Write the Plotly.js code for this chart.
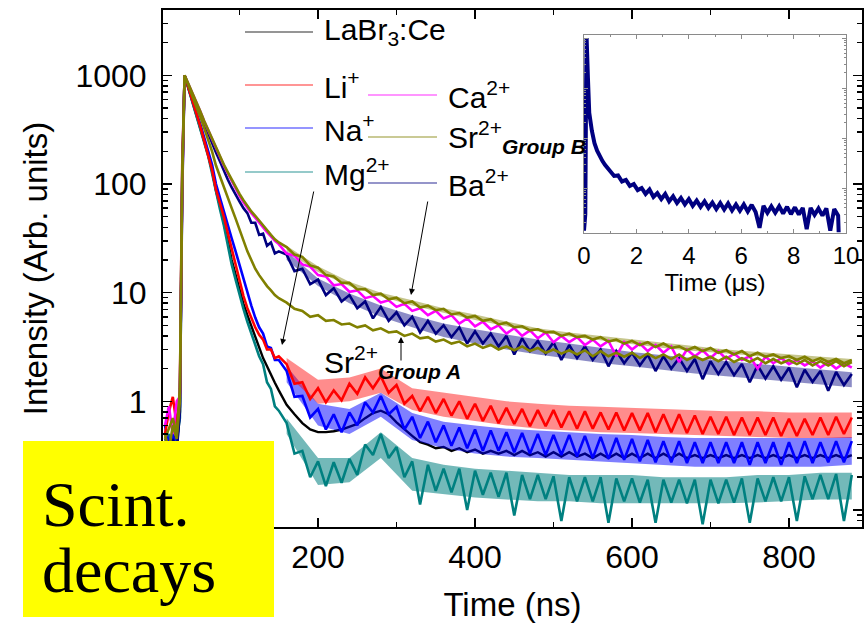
<!DOCTYPE html>
<html>
<head>
<meta charset="utf-8">
<script src="https://cdn.plot.ly/plotly-3.0.1.min.js"></script>
<style>html,body{margin:0;padding:0;background:#fff;}#chart{width:868px;height:630px;}</style>
</head>
<body>
<div id="chart"></div>
<script>
// ---------- data ----------
const timeNs = [5,10,15,20,24,27,30,35,40,45,50,55,60,65,70,75,80,85,90,95,100,105,110,115,120,125,130,135,140,145,150,
160,170,180,190,200,210,220,230,240,250,260,270,280,290,300,310,320,330,340,350,360,370,380,390,400,410,420,430,440,450,460,470,480,490,500,510,520,530,540,550,560,570,580,590,600,610,620,630,640,650,660,670,680,690,700,710,720,730,740,750,760,770,780,790,800,810,820,830,840,850,860,870,880];

const labr = [0.45,0.4,0.5,0.4,0.8,100,1000,759,575,437,331,251,186,132,87,63,44.7,30.2,20,14.5,10.7,7.9,6.2,4.9,4.0,3.2,2.5,2.1,1.74,1.48,1.26,
0.93,0.76,0.63,0.55,0.52,0.52,0.53,0.55,0.58,0.62,0.7,0.78,0.82,0.76,0.64,0.55,0.48,0.42,0.4,0.37,0.38,0.35,0.37,0.34,0.36,0.33,0.35,0.33,0.35,0.32,0.35,0.32,0.34,0.31,0.34,0.31,0.34,0.31,0.33,0.3,0.33,0.3,0.33,0.3,0.33,0.3,0.33,0.3,0.33,0.3,0.33,0.3,0.32,0.3,0.32,0.3,0.32,0.3,0.32,0.3,0.32,0.3,0.32,0.3,0.32,0.3,0.32,0.3,0.32,0.3,0.32,0.3,0.32];

const li = [0.5,0.8,1.1,0.6,1.2,150,1000,776,589,447,339,251,191,135,89,68,50,35.5,25,17.8,12.6,9.3,7.2,5.75,4.8,4.1,3.7,3.0,3.0,2.5,2.6,
2.2,1.45,1.5,1.05,1.32,0.98,1.26,1.02,1.45,1.17,1.66,1.32,1.7,1.2,1.41,0.95,1.12,0.81,1.1,0.78,1.05,0.74,1.0,0.69,0.95,0.66,0.91,0.63,0.87,0.62,0.85,0.59,0.83,0.59,0.83,0.575,0.81,0.56,0.81,0.56,0.79,0.55,0.79,0.54,0.78,0.54,0.78,0.52,0.76,0.52,0.76,0.51,0.74,0.5,0.72,0.5,0.72,0.49,0.71,0.49,0.71,0.49,0.71,0.48,0.69,0.48,0.69,0.49,0.71,0.49,0.72,0.5,0.71];

const na = [0.6,0.4,0.5,0.35,0.9,130,1000,759,589,457,355,269,204,151,100,74,55,41.7,31.6,24,17.8,13.5,10,7.6,5.9,4.8,4.2,3.2,3.1,2.4,2.4,
1.9,1.1,1.12,0.71,0.85,0.55,0.76,0.52,0.79,0.6,0.98,0.79,1.12,0.76,0.89,0.55,0.72,0.46,0.65,0.42,0.6,0.39,0.575,0.37,0.55,0.35,0.54,0.35,0.52,0.34,0.51,0.33,0.5,0.32,0.49,0.32,0.49,0.31,0.48,0.3,0.47,0.295,0.46,0.29,0.45,0.28,0.44,0.275,0.43,0.275,0.43,0.27,0.42,0.27,0.42,0.27,0.42,0.27,0.42,0.26,0.42,0.27,0.42,0.26,0.42,0.27,0.43,0.27,0.42,0.275,0.43,0.275,0.43];

const mg = [0.4,0.5,0.3,0.45,0.7,100,1000,759,575,437,331,245,182,126,83,59,41.7,27.5,18.2,13.2,9.5,7.1,5.4,4.2,3.3,2.6,2.2,1.5,1.3,0.9,0.82,
0.63,0.33,0.35,0.2,0.28,0.166,0.275,0.178,0.295,0.21,0.4,0.32,0.5,0.3,0.38,0.2,0.28,0.112,0.26,0.15,0.24,0.145,0.24,0.1,0.23,0.138,0.22,0.132,0.22,0.089,0.21,0.126,0.21,0.126,0.204,0.079,0.2,0.12,0.2,0.12,0.2,0.076,0.195,0.12,0.195,0.117,0.19,0.076,0.19,0.117,0.19,0.115,0.19,0.074,0.19,0.115,0.19,0.117,0.195,0.076,0.195,0.12,0.2,0.12,0.2,0.079,0.204,0.126,0.21,0.126,0.214,0.079,0.21];

const ca = [0.6,0.9,0.5,1.0,1.1,90,1000,830,690,573,466,378,314,260,211,175,148,126,107,90,78,68,60,54,49,44,40,36,33,30,28,
22.9,21.9,18.2,17.4,14.5,14.1,11.7,12.0,10.2,10.5,8.9,9.3,8.1,8.5,7.4,7.9,6.8,7.2,6.2,6.8,5.8,6.2,5.2,5.8,4.9,5.4,4.6,5.0,4.2,4.7,4.0,4.5,3.8,4.3,3.5,4.0,3.5,3.9,3.3,3.7,3.2,3.6,2.6,3.5,3.0,3.4,2.9,3.3,2.8,3.2,2.3,3.0,2.6,2.95,2.5,2.9,2.45,2.75,2.4,2.6,2.0,2.57,2.24,2.5,2.2,2.4,2.14,2.34,2.04,2.3,2.0,2.24,2.04];

const srB = [0.45,0.55,0.7,0.5,1.3,120,1000,832,692,575,468,380,316,263,214,178,151,129,110,93,81,71,63,56,51,46,42,37,34,31,29,
26.3,22.4,21.4,17.8,17.0,14.5,14.1,12.3,12.3,10.7,10.8,9.5,9.8,8.7,9.0,8.0,8.3,7.3,7.6,6.9,7.1,6.3,6.5,5.9,6.1,5.5,5.7,5.1,5.3,4.8,4.9,4.5,4.6,4.3,4.35,4.0,4.2,3.9,4.0,3.7,3.9,3.55,3.7,3.4,3.6,3.3,3.5,3.16,3.4,3.1,3.2,2.95,3.16,2.9,3.1,2.8,2.95,2.7,2.9,2.6,2.8,2.57,2.7,2.5,2.6,2.4,2.57,2.34,2.5,2.3,2.45,2.24,2.4];

const srA = [0.5,0.35,0.6,0.45,1.0,110,1000,794,631,513,417,331,263,200,148,117,93,76,60,48,38,30,24,20,16.6,14.5,12.9,11.5,10.5,9.5,8.9,
8.1,7.1,6.8,6.0,6.2,5.5,5.6,5.1,5.2,4.8,5.0,4.5,4.7,4.3,4.4,4.0,4.2,3.8,3.9,3.55,3.7,3.4,3.55,3.2,3.4,3.1,3.3,3.0,3.2,2.95,3.2,2.9,3.1,2.8,3.0,2.75,2.95,2.7,2.95,2.6,2.9,2.6,2.8,2.57,2.8,2.5,2.75,2.5,2.7,2.45,2.7,2.4,2.6,2.4,2.57,2.34,2.57,2.3,2.5,2.3,2.5,2.24,2.45,2.24,2.4,2.2,2.4,2.14,2.34,2.14,2.34,2.1,2.3];

const ba = [0.4,0.3,0.45,0.35,0.8,80,1000,813,676,550,447,363,295,240,195,162,132,110,93,79,69,60,54,44,44,34,35,27,29,23,24,
22.4,15.8,16.6,12.0,13.2,9.5,11.0,8.3,9.5,7.2,8.3,5.8,7.4,5.5,6.6,5.0,6.0,4.3,5.5,4.2,5.0,3.9,4.8,3.4,4.4,3.4,4.2,3.2,4.0,2.7,3.8,2.9,3.6,2.75,3.5,2.4,3.3,2.5,3.2,2.4,3.0,2.1,2.9,2.24,2.8,2.14,2.7,1.9,2.6,2.0,2.5,1.9,2.45,1.6,2.34,1.78,2.3,1.74,2.2,1.5,2.14,1.62,2.1,1.58,2.04,1.35,1.95,1.51,1.9,1.25,1.86,1.41,1.78];

// noise-band edges of the tails, every 40 ns
const bandTimeNs = [160,200,240,280,320,360,400,440,480,520,560,600,640,680,720,760,800,840,880];
const liHi = [2.5,1.58,1.66,2.0,1.32,1.2,1.1,1.0,0.95,0.91,0.89,0.87,0.85,0.83,0.81,0.81,0.79,0.79,0.79];
const liLo = [1.78,0.95,1.0,1.2,0.83,0.72,0.66,0.6,0.56,0.54,0.52,0.51,0.5,0.49,0.48,0.47,0.46,0.46,0.46];
const naHi = [2.1,0.95,0.85,1.2,0.78,0.65,0.6,0.56,0.54,0.52,0.5,0.49,0.47,0.46,0.46,0.46,0.46,0.46,0.47];
const naLo = [1.5,0.6,0.5,0.72,0.44,0.37,0.33,0.31,0.3,0.29,0.28,0.27,0.26,0.25,0.25,0.25,0.25,0.25,0.26];
const mgHi = [0.7,0.3,0.3,0.52,0.3,0.26,0.24,0.23,0.22,0.21,0.21,0.21,0.2,0.2,0.2,0.21,0.21,0.22,0.22];
const mgLo = [0.5,0.17,0.18,0.3,0.15,0.14,0.13,0.125,0.12,0.12,0.115,0.115,0.115,0.115,0.115,0.117,0.12,0.125,0.125];
const baHi = [24,13.5,9.8,7.6,6.2,5.2,4.6,4.1,3.7,3.4,3.1,2.85,2.65,2.5,2.35,2.2,2.1,1.95,1.85];
const baLo = [20,11.5,8.0,6.0,4.8,3.9,3.4,3.0,2.7,2.45,2.25,2.1,1.95,1.8,1.7,1.6,1.5,1.42,1.35];
const srHi = [27,17.5,12.6,10,8.5,7.2,6.3,5.4,4.7,4.3,4.0,3.7,3.45,3.2,3.0,2.85,2.7,2.55,2.45];
const srLo = [24,15.5,11.5,9.2,7.6,6.5,5.6,4.9,4.4,3.95,3.65,3.35,3.1,2.9,2.75,2.6,2.45,2.35,2.25];

// inset: LaBr3 long decay (µs)
const insetTimeUs = [0,0.05,0.08,0.1,0.15,0.2,0.3,0.4,0.5,0.6,0.7,0.8,0.9,
1.0,1.15,1.3,1.45,1.6,1.75,1.9,2.05,2.2,2.35,2.5,2.65,2.8,2.95,3.1,3.25,3.4,3.55,3.7,3.85,4.0,4.15,4.3,4.45,4.6,4.75,4.9,5.05,5.2,5.35,5.5,5.65,5.8,5.95,6.1,6.25,6.4,6.55,6.7,6.85,7.0,7.15,7.3,7.45,7.6,7.75,7.9,8.05,8.2,8.35,8.5,8.65,8.8,8.95,9.1,9.25,9.4,9.55,9.7,9.72];
const insetIntensity = [0.14,0.3,100,1000,160,32,14,7.9,5.6,4.3,3.5,2.9,2.5,
2.24,1.74,1.78,1.35,1.45,1.1,1.2,0.91,1.0,0.76,0.93,0.66,0.79,0.6,0.76,0.54,0.68,0.5,0.63,0.47,0.6,0.44,0.56,0.42,0.54,0.4,0.51,0.38,0.5,0.37,0.49,0.355,0.47,0.35,0.47,0.34,0.46,0.33,0.16,0.44,0.32,0.43,0.32,0.43,0.31,0.42,0.3,0.41,0.295,0.4,0.15,0.4,0.29,0.39,0.28,0.39,0.14,0.38,0.28,0.13];

// tick labels (those at 0 ns and 0.1 sit under the yellow box in the original and are not visible)
const xTickVals = [0,200,400,600,800];
const xTickText = ['','200','400','600','800'];
const yTickVals = [0.1,1,10,100,1000];
const yTickText = ['','1','10','100','1000'];
const insetXTickVals = [0,2,4,6,8,10];

// ---------- styling ----------
const C = {labr:'#000000', li:'#ff0000', na:'#0000ff', mg:'#008080', ca:'#ff00ff', sr:'#808000', ba:'#000080'};
const FONT = 'Liberation Sans, Arial, sans-serif';
const SERIF = 'Liberation Serif, Times New Roman, serif';

// pixel -> paper helpers (plot area: x 163..862, y 10..527)
const PL=163, PR=862, PT=10, PB=527;
const px = x => (x-PL)/(PR-PL);
const py = y => (PB-y)/(PB-PT);

function tr(y, color, w){
  return {x: timeNs, y: y, type:'scatter', mode:'lines', line:{color:color, width:w}, hoverinfo:'skip'};
}
function band(lo, hi, fill){
  return [
    {x: bandTimeNs, y: lo, type:'scatter', mode:'lines', line:{width:0, color:fill}, hoverinfo:'skip'},
    {x: bandTimeNs, y: hi, type:'scatter', mode:'lines', line:{width:0, color:fill}, fill:'tonexty', fillcolor:fill, hoverinfo:'skip'}
  ];
}
const traces = [].concat(
  [tr(labr, C.labr, 2.4)],
  band(mgLo, mgHi, 'rgba(0,128,128,0.55)'),
  band(naLo, naHi, 'rgba(0,0,255,0.5)'),
  band(liLo, liHi, 'rgba(255,0,0,0.45)'),
  band(baLo, baHi, 'rgba(0,0,128,0.45)'),
  band(srLo, srHi, 'rgba(128,128,0,0.45)'),
  [
  tr(mg, C.mg, 2.6),
  tr(na, C.na, 2.6),
  tr(li, C.li, 2.6),
  tr(ba, C.ba, 2.6),
  tr(ca, C.ca, 2.6),
  tr(srA, C.sr, 2.6),
  tr(srB, C.sr, 2.6),
  {x: insetTimeUs, y: insetIntensity, xaxis:'x2', yaxis:'y2', type:'scatter', mode:'lines',
   line:{color:C.ba, width:4}, hoverinfo:'skip'}
  ]);

const minorY = [];
for (let e=-2; e<=3; e++) for (let m=2; m<=9; m++) minorY.push(m*Math.pow(10,e));

const axCommon = {showline:true, linecolor:'#000', linewidth:2, mirror:'allticks', ticks:'inside',
  tickcolor:'#000', tickwidth:1.5, ticklen:9, showgrid:false, zeroline:false,
  tickfont:{family:FONT, size:32, color:'#000'}};

const legendItems = [
  {y:32,  col:1, color:C.labr, text:'LaBr<sub>3</sub>:Ce'},
  {y:85,  col:1, color:C.li,   text:'Li<sup>+</sup>'},
  {y:128, col:1, color:C.na,   text:'Na<sup>+</sup>'},
  {y:172, col:1, color:C.mg,   text:'Mg<sup>2+</sup>'},
  {y:95,  col:2, color:C.ca,   text:'Ca<sup>2+</sup>'},
  {y:137, col:2, color:C.sr,   text:'Sr<sup>2+</sup><sub><b><i>Group B</i></b></sub>'},
  {y:183, col:2, color:C.ba,   text:'Ba<sup>2+</sup>'}
];
const shapes = [];
const annotations = [];
legendItems.forEach(it => {
  const x0 = it.col===1 ? 245 : 368, x1 = it.col===1 ? 313 : 437, tx = it.col===1 ? 322 : 446;
  shapes.push({type:'line', xref:'paper', yref:'paper', x0:px(x0), x1:px(x1), y0:py(it.y), y1:py(it.y),
    line:{color:it.color, width:1.5}, opacity:0.55, layer:'above'});
  annotations.push({xref:'paper', yref:'paper', x:px(tx), y:py(it.y), xanchor:'left', yanchor:'middle',
    text:it.text, showarrow:false, font:{family:FONT, size:30, color:'#000'}});
});
// Sr group A label
annotations.push({xref:'paper', yref:'paper', x:px(322), y:py(362), xanchor:'left', yanchor:'middle',
  text:'Sr<sup>2+</sup><sub><b><i>Group A</i></b></sub>', showarrow:false, font:{family:FONT, size:30, color:'#000'}});
// arrows
function arrow(tipX, tipY, tailX, tailY){
  return {xref:'paper', yref:'paper', x:px(tipX), y:py(tipY), ax:tailX-tipX, ay:tailY-tipY,
    axref:'pixel', ayref:'pixel', text:'', showarrow:true, arrowhead:2, arrowsize:1.2, arrowwidth:1,
    arrowcolor:'#000', standoff:0, startstandoff:0};
}
annotations.push(arrow(282, 345, 314, 190));
annotations.push(arrow(411, 295, 428, 200));
annotations.push(arrow(401, 337, 401, 362));
// yellow box
shapes.push({type:'rect', xref:'paper', yref:'paper', x0:px(23), x1:px(274), y0:py(617), y1:py(441),
  fillcolor:'#ffff00', line:{width:0}, layer:'above'});
annotations.push({xref:'paper', yref:'paper', x:px(40), y:py(504), xanchor:'left', yanchor:'middle',
  text:'Scint.', showarrow:false, font:{family:SERIF, size:64, color:'#000'}});
annotations.push({xref:'paper', yref:'paper', x:px(40), y:py(570), xanchor:'left', yanchor:'middle',
  text:'decays', showarrow:false, font:{family:SERIF, size:64, color:'#000'}});

const layout = {
  width:868, height:630, margin:{l:PL, r:868-PR, t:PT, b:630-PB, pad:0},
  paper_bgcolor:'#fff', plot_bgcolor:'#fff', showlegend:false,
  xaxis: Object.assign({}, axCommon, {
    domain:[0,1], range:[2.5, 893], tickmode:'array', tickvals:xTickVals, ticktext:xTickText, ticklabelstandoff:1,
    minor:{tickmode:'linear', tick0:0, dtick:100, ticks:'inside', ticklen:5, tickwidth:1.5, tickcolor:'#000', showgrid:false},
    title:{text:'Time (ns)', font:{family:FONT, size:33, color:'#000'}, standoff:18}
  }),
  yaxis: Object.assign({}, axCommon, {
    type:'log', range:[-1.157, 3.602], tickmode:'array', tickvals:yTickVals, ticktext:yTickText, ticklabelstandoff:8,
    minor:{tickmode:'array', tickvals:minorY, ticks:'inside', ticklen:5, tickwidth:1.5, tickcolor:'#000', showgrid:false},
    title:{text:'Intensity (Arb. units)', font:{family:FONT, size:33, color:'#000'}, standoff:18}
  }),
  xaxis2: {domain:[px(584), px(846)], anchor:'y2', range:[0,10], tickmode:'array', tickvals:insetXTickVals,
    showline:true, linecolor:'#8a8a8a', linewidth:1.2, mirror:'allticks', ticks:'inside', ticklen:4, tickwidth:1,
    tickcolor:'#8a8a8a', showgrid:false, zeroline:false, tickfont:{family:FONT, size:24, color:'#000'}, ticklabelstandoff:1,
    minor:{tickmode:'linear', tick0:0, dtick:1, ticks:'inside', ticklen:2, tickcolor:'#8a8a8a', showgrid:false},
    title:{text:'Time (\u03bcs)', font:{family:FONT, size:24, color:'#000'}, standoff:0}},
  yaxis2: {domain:[py(233), py(35)], anchor:'x2', type:'log', range:[-0.9, 3.06], showticklabels:false,
    tickmode:'array', tickvals:yTickVals,
    showline:true, linecolor:'#8a8a8a', linewidth:1.2, mirror:'allticks', ticks:'inside', ticklen:4, tickwidth:1,
    tickcolor:'#8a8a8a', showgrid:false, zeroline:false,
    minor:{tickmode:'array', tickvals:minorY, ticks:'inside', ticklen:2, tickcolor:'#8a8a8a', showgrid:false}},
  shapes: shapes,
  annotations: annotations
};

Plotly.newPlot('chart', traces, layout, {displayModeBar:false, staticPlot:true});
</script>
</body>
</html>
